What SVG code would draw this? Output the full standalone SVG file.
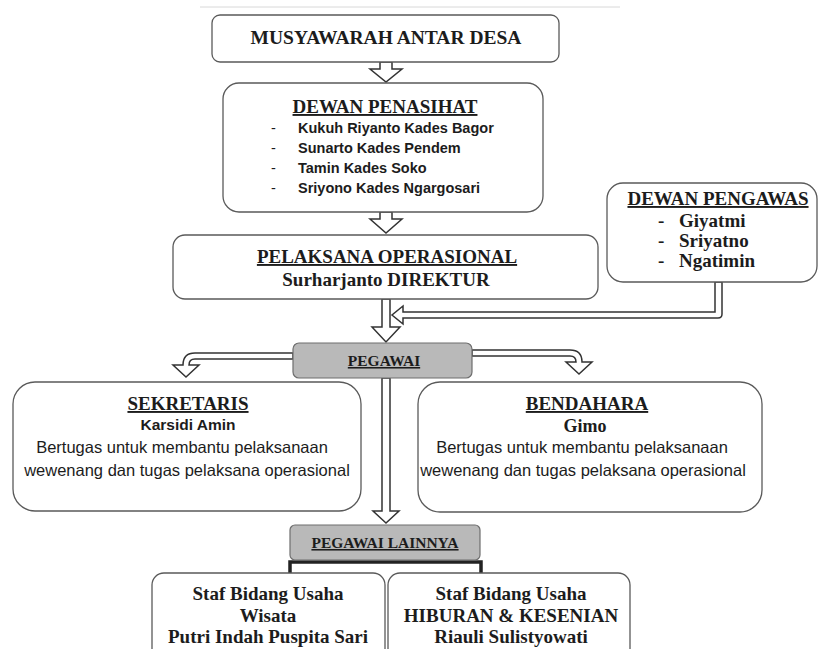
<svg xmlns="http://www.w3.org/2000/svg" width="820" height="649" viewBox="0 0 820 649">
<style>
.box{fill:#fff;stroke:#5a5a5a;stroke-width:1.3}
.grey{fill:#b9b9b9;stroke:#6e6e6e;stroke-width:1.2}
.arr{fill:#fff;stroke:#333;stroke-width:1.5;stroke-linejoin:miter}
.t{font-family:"Liberation Serif","Times New Roman",serif;font-weight:bold;fill:#1c1c1c;text-anchor:middle;font-size:19px}
.tl{font-family:"Liberation Serif","Times New Roman",serif;font-weight:bold;fill:#1c1c1c;text-anchor:start;font-size:19px}
.s{font-family:"Liberation Sans",Arial,sans-serif;fill:#1c1c1c;text-anchor:middle;font-size:16.5px}
.sl{font-family:"Liberation Sans",Arial,sans-serif;fill:#1c1c1c;text-anchor:start;font-size:14.5px}
.u{text-decoration:underline}
.sm{font-size:15.5px}
</style>
<rect width="820" height="649" fill="#fff"/>
<line x1="200" y1="7" x2="620" y2="7" stroke="#d8d8d8" stroke-width="1"/>

<g id="connectors">
  <path class="arr" d="M380,62 V69 H370 L386,82 L402,69 H392 V62 Z"/>
  <path class="arr" d="M380,212 V219 H370 L386,233 L402,219 H392 V212 Z"/>
  <path class="arr" d="M382,299 V327 H372 L386,342 L400,327 H390 V299 Z"/>
  <path class="arr" d="M715,282 V312 H403 V306 L392,315 L403,324 V318 H718 Q722,318 722,314 V282 Z"/>
  <path class="arr" d="M293,353 H195 Q183,353 183,365 H173 L186,377 L199,365 H189 Q189,359 195,359 H293 Z"/>
  <path class="arr" d="M472,350 H570 Q582,350 582,362 H592 L579,374 L566,362 H576 Q576,356 570,356 H472 Z"/>
  <path class="arr" d="M382,378 V511 H373 L386,523 L399,511 H390 V378 Z"/>
  <path d="M290,576 V562 H481 V576" fill="none" stroke="#222" stroke-width="3.5"/>
</g>

<g id="musyawarah">
  <rect class="box" x="212" y="15" width="347" height="47" rx="8"/>
  <text class="t" x="386" y="44" style="font-size:19.5px">MUSYAWARAH ANTAR DESA</text>
</g>

<g id="dewan-penasihat">
  <rect class="box" x="223" y="83" width="320" height="129" rx="16"/>
  <text class="t u" x="385" y="113">DEWAN PENASIHAT</text>
  <text class="sl" x="271" y="133">-</text>
  <text class="sl" x="271" y="153">-</text>
  <text class="sl" x="271" y="173">-</text>
  <text class="sl" x="271" y="193">-</text>
  <text class="sl" x="298" y="133" font-weight="bold">Kukuh Riyanto Kades Bagor</text>
  <text class="sl" x="298" y="153" font-weight="bold">Sunarto Kades Pendem</text>
  <text class="sl" x="298" y="173" font-weight="bold">Tamin Kades Soko</text>
  <text class="sl" x="298" y="193" font-weight="bold">Sriyono Kades Ngargosari</text>
</g>

<g id="pelaksana">
  <rect class="box" x="173" y="235" width="425" height="64" rx="12"/>
  <text class="t u" x="387" y="263">PELAKSANA OPERASIONAL</text>
  <text class="t" x="386" y="286">Surharjanto DIREKTUR</text>
</g>

<g id="dewan-pengawas">
  <rect class="box" x="607" y="183" width="210" height="99" rx="16"/>
  <text class="t u" x="718" y="205">DEWAN PENGAWAS</text>
  <text class="tl" x="658" y="227">-</text>
  <text class="tl" x="658" y="247">-</text>
  <text class="tl" x="658" y="267">-</text>
  <text class="tl" x="679" y="227">Giyatmi</text>
  <text class="tl" x="679" y="247">Sriyatno</text>
  <text class="tl" x="679" y="267">Ngatimin</text>
</g>

<g id="pegawai">
  <rect class="grey" x="293" y="343" width="179" height="35" rx="6"/>
  <text class="t u sm" x="384" y="366">PEGAWAI</text>
</g>

<g id="sekretaris">
  <rect class="box" x="13" y="382" width="348" height="129" rx="22"/>
  <text class="t u" x="188" y="410">SEKRETARIS</text>
  <text class="s" x="188" y="430" font-weight="bold" style="font-size:15.5px">Karsidi Amin</text>
  <text class="s" x="182" y="453">Bertugas untuk membantu pelaksanaan</text>
  <text class="s" x="187" y="476">wewenang dan tugas pelaksana operasional</text>
</g>

<g id="bendahara">
  <rect class="box" x="418" y="382" width="344" height="130" rx="22"/>
  <text class="t u" x="587" y="410">BENDAHARA</text>
  <text class="t" x="585" y="432" style="font-size:18px">Gimo</text>
  <text class="s" x="582" y="453">Bertugas untuk membantu pelaksanaan</text>
  <text class="s" x="583" y="476">wewenang dan tugas pelaksana operasional</text>
</g>

<g id="pegawai-lainnya">
  <rect class="grey" x="290" y="525" width="190" height="35" rx="5"/>
  <text class="t u sm" x="385" y="548">PEGAWAI LAINNYA</text>
</g>

<g id="staf-wisata">
  <rect class="box" x="152" y="573" width="233" height="90" rx="12"/>
  <text class="t" x="268" y="600">Staf Bidang Usaha</text>
  <text class="t" x="268" y="622">Wisata</text>
  <text class="t" x="268" y="643">Putri Indah Puspita Sari</text>
</g>

<g id="staf-hiburan">
  <rect class="box" x="388" y="573" width="242" height="90" rx="12"/>
  <text class="t" x="511" y="600">Staf Bidang Usaha</text>
  <text class="t" x="511" y="622">HIBURAN &amp; KESENIAN</text>
  <text class="t" x="511" y="643">Riauli Sulistyowati</text>
</g>
</svg>
